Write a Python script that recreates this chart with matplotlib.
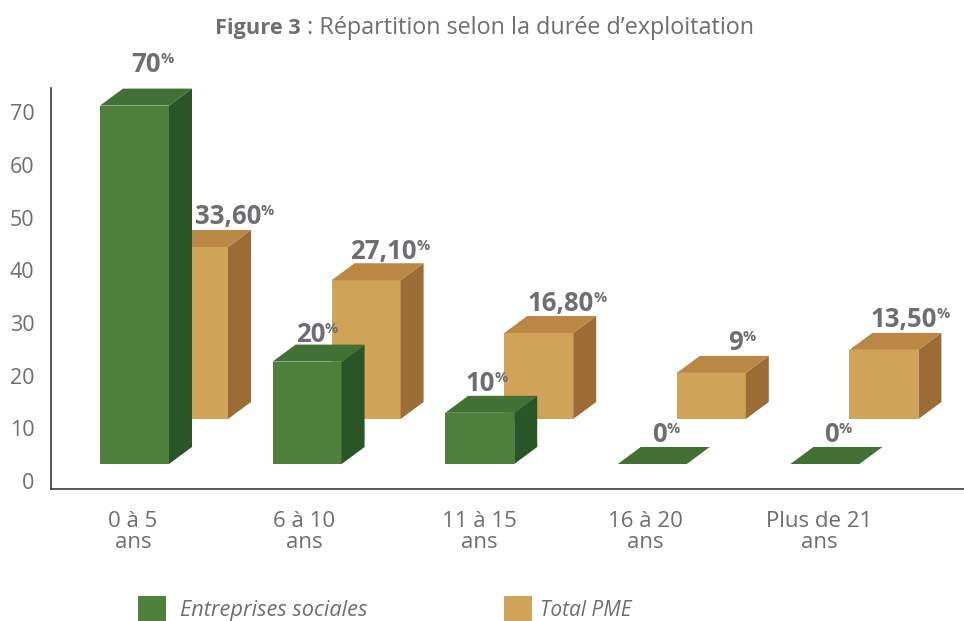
import matplotlib
matplotlib.use('Agg')
import matplotlib.pyplot as plt
from matplotlib.patches import Polygon, Rectangle

plt.rcParams['font.family'] = ['Open Sans', 'DejaVu Sans']

# Data
categories = ['0 à 5\nans', '6 à 10\nans', '11 à 15\nans', '16 à 20\nans', 'Plus de 21\nans']
sociales = [70, 20, 10, 0, 0]
pme = [33.6, 27.1, 16.8, 9, 13.5]
sociales_labels = ['70', '20', '10', '0', '0']
pme_labels = ['33,60', '27,10', '16,80', '9', '13,50']
yticks = [0, 10, 20, 30, 40, 50, 60, 70]

W, H = 964, 621
GREY = '#6d6e71'
GREEN = ('#4e803b', '#437034', '#2a5526')
TAN = ('#d0a358', '#bb8745', '#9b6c35')

# pixel positions of the labels (end of number, baseline)
sociales_pos = [(161, 72), (325, 342), (495, 391), (667, 442), (839, 442)]
pme_pos = [(261, 224), (417, 259), (594, 311), (743, 350), (937, 327)]
tick_x = [133, 304, 479, 645, 819]

fig = plt.figure(figsize=(W / 100, H / 100), dpi=100)
ax = fig.add_axes([51 / W, 1 - 489 / H, 1 - 51 / W, 401 / H])

# one category = 172.6 px, one unit on the axis = 5.27 px
PX_X = 172.6
PX_Y = 5.27
ax.set_xlim((51 - 134.5) / PX_X, (964 - 134.5) / PX_X)
ax.set_ylim(-8 / PX_Y, 393 / PX_Y)

width = 69 / PX_X
dx = 23 / PX_X
dy = 17 / PX_Y
scale = 5.12 / PX_Y  # bars are a bit shorter than the axis says


def bar3d(x, value, base, colors):
    h = value * scale
    left = x - width / 2
    right = x + width / 2
    top = base + h
    if h > 0:
        ax.bar(x, h, width, bottom=base, color=colors[0], linewidth=0, zorder=3)
        ax.add_patch(Polygon([(right, base), (right + dx, base + dy), (right + dx, top + dy), (right, top)],
                             facecolor=colors[2], linewidth=0, zorder=3))
    ax.add_patch(Polygon([(left, top), (left + dx, top + dy), (right + dx, top + dy), (right, top)],
                         facecolor=colors[1], linewidth=0, zorder=3))


for i in range(len(categories)):
    bar3d(i + 59 / PX_X, pme[i], 62 / PX_Y, TAN)
for i in range(len(categories)):
    bar3d(i, sociales[i], 17 / PX_Y, GREEN)

ax.spines['top'].set_visible(False)
ax.spines['right'].set_visible(False)
ax.spines['left'].set_color('#3c3c3c')
ax.spines['bottom'].set_color('#3c3c3c')
ax.spines['left'].set_linewidth(1.2)
ax.spines['bottom'].set_linewidth(1.2)
ax.set_yticks(yticks)
ax.set_xticks([])
ax.tick_params(axis='y', length=0, pad=12, labelsize=15.5, labelcolor=GREY)


def value_label(pos, txt):
    x, y = pos
    fig.text(x / W, 1 - y / H, txt, ha='right', va='baseline', fontsize=18.5,
             fontweight='bold', color=GREY)
    fig.text((x - 0.5) / W, 1 - (y - 9) / H, '%', ha='left', va='baseline', fontsize=10.5,
             fontweight='bold', color=GREY)


for p, t in zip(sociales_pos, sociales_labels):
    value_label(p, t)
for p, t in zip(pme_pos, pme_labels):
    value_label(p, t)

for x, c in zip(tick_x, categories):
    fig.text(x / W, 1 - 532 / H, c, ha='center', va='center', fontsize=16, color=GREY,
             linespacing=1.05)

# title
fig.text(301 / W, 1 - 34 / H, 'Figure 3', ha='right', va='baseline', fontsize=15.7,
         fontweight='bold', color=GREY)
fig.text(307 / W, 1 - 34 / H, ': Répartition selon la durée d’exploitation', ha='left', va='baseline',
         fontsize=16.8, color=GREY)

# legend
fig.add_artist(Rectangle((138 / W, 1 - 621 / H), 28 / W, 25 / H, transform=fig.transFigure,
                         facecolor=GREEN[0], linewidth=0))
fig.add_artist(Rectangle((504 / W, 1 - 621 / H), 28 / W, 25 / H, transform=fig.transFigure,
                         facecolor=TAN[0], linewidth=0))
fig.text(180 / W, 1 - 616 / H, 'Entreprises sociales', ha='left', va='baseline', fontsize=15.7,
         style='italic', color=GREY)
fig.text(540 / W, 1 - 616 / H, 'Total PME', ha='left', va='baseline', fontsize=15,
         style='italic', color=GREY)

fig.savefig('out.png', dpi=100)
